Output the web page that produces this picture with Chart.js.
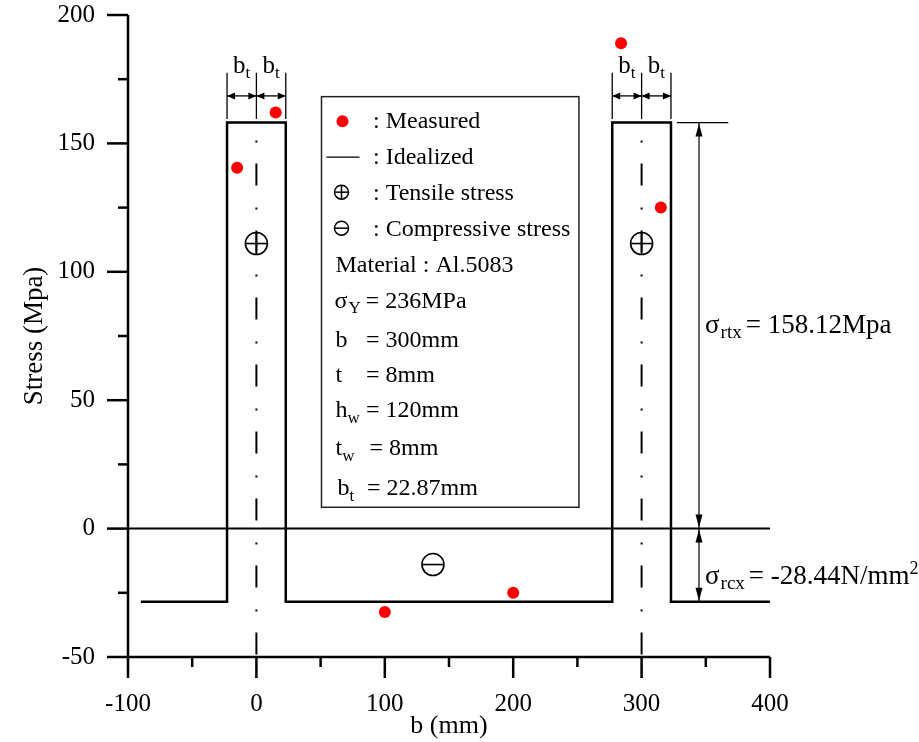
<!DOCTYPE html>
<html>
<head>
<meta charset="utf-8">
<script src="https://cdn.jsdelivr.net/npm/chart.js@4/dist/chart.umd.min.js"></script>
<style>
  html, body { margin: 0; padding: 0; background: #fff; }
  canvas { display: block; }
</style>
</head>
<body>
<canvas id="c" width="919" height="742"></canvas>
<script>
// ---------------- data ----------------
const xTicks = [-100, 0, 100, 200, 300, 400];
const yTicks = [-50, 0, 50, 100, 150, 200];
const xMinorTicks = [-50, 50, 150, 250, 350];
const yMinorTicks = [-25, 25, 75, 125, 175];

const idealX = [-90, -22.87, -22.87, 22.87, 22.87, 277.13, 277.13, 322.87, 322.87, 400];
const idealY = [-28.44, -28.44, 158.12, 158.12, -28.44, -28.44, 158.12, 158.12, -28.44, -28.44];

const measX = [-15, 15, 100, 200, 284, 315];
const measY = [140.5, 162, -32.5, -25, 189, 125];

const sigmaRtx = 158.12;
const sigmaRcx = -28.44;
const bt = 22.87;
const webCenters = [0, 300];

const SERIF = "'Liberation Serif', 'Times New Roman', serif";

function drawRich(ctx, x, y, parts) {
  let cx = x;
  for (const p of parts) {
    ctx.font = p.size + 'px ' + SERIF;
    ctx.fillText(p.t, cx, y + (p.dy || 0));
    cx += ctx.measureText(p.t).width + (p.gap || 0);
  }
  return cx;
}
function richWidth(ctx, parts) {
  let w = 0;
  for (const p of parts) { ctx.font = p.size + 'px ' + SERIF; w += ctx.measureText(p.t).width + (p.gap || 0); }
  return w;
}
function head(ctx, x, y, dx, dy, len, half) {
  ctx.beginPath();
  ctx.moveTo(x, y);
  ctx.lineTo(x - dx * len - dy * half, y - dy * len + dx * half);
  ctx.lineTo(x - dx * len + dy * half, y - dy * len - dx * half);
  ctx.closePath();
  ctx.fill();
}
function circSym(ctx, x, y, r, plus, lw) {
  ctx.lineWidth = lw;
  ctx.beginPath(); ctx.arc(x, y, r, 0, Math.PI * 2); ctx.stroke();
  ctx.beginPath(); ctx.moveTo(x - r, y); ctx.lineTo(x + r, y); ctx.stroke();
  if (plus) { ctx.beginPath(); ctx.moveTo(x, y - r); ctx.lineTo(x, y + r); ctx.stroke(); }
}

const annot = {
  id: 'annot',
  beforeDatasetsDraw(chart) {
    const ctx = chart.ctx, xs = chart.scales.x, ys = chart.scales.y;
    const px = v => xs.getPixelForValue(v), py = v => ys.getPixelForValue(v);
    ctx.save();
    ctx.strokeStyle = '#000';
    ctx.lineWidth = 2;
    ctx.beginPath(); ctx.moveTo(px(-100), py(0)); ctx.lineTo(px(400), py(0)); ctx.stroke();
    ctx.lineWidth = 2;
    ctx.setLineDash([2, 21, 22, 22]);
    ctx.lineDashOffset = 49;
    for (const c of webCenters) {
      ctx.beginPath(); ctx.moveTo(px(c), py(sigmaRtx)); ctx.lineTo(px(c), ys.bottom + 21); ctx.stroke();
    }
    ctx.setLineDash([]);
    ctx.restore();
  },
  afterDraw(chart) {
    const ctx = chart.ctx, xs = chart.scales.x, ys = chart.scales.y;
    const px = v => xs.getPixelForValue(v), py = v => ys.getPixelForValue(v);
    const L = xs.left, B = ys.bottom;
    ctx.save();
    ctx.strokeStyle = '#000'; ctx.fillStyle = '#000';
    // axes
    ctx.lineWidth = 2.5;
    ctx.beginPath(); ctx.moveTo(L, py(200)); ctx.lineTo(L, B); ctx.stroke();
    ctx.beginPath(); ctx.moveTo(L, B); ctx.lineTo(px(400), B); ctx.stroke();
    for (const v of yTicks) { ctx.beginPath(); ctx.moveTo(L - 21, py(v)); ctx.lineTo(L, py(v)); ctx.stroke(); }
    for (const v of yMinorTicks) { ctx.beginPath(); ctx.moveTo(L - 10, py(v)); ctx.lineTo(L, py(v)); ctx.stroke(); }
    for (const v of xTicks) { ctx.beginPath(); ctx.moveTo(px(v), B); ctx.lineTo(px(v), B + 21); ctx.stroke(); }
    for (const v of xMinorTicks) { ctx.beginPath(); ctx.moveTo(px(v), B); ctx.lineTo(px(v), B + 10); ctx.stroke(); }

    // b_t dimensions
    ctx.lineWidth = 1.3;
    ctx.textBaseline = 'alphabetic'; ctx.textAlign = 'left';
    for (const c of webCenters) {
      for (const e of [c - bt, c, c + bt]) {
        ctx.beginPath(); ctx.moveTo(px(e), py(177.5)); ctx.lineTo(px(e), py(159.5)); ctx.stroke();
      }
      const ay = py(168.5);
      for (const [a, b] of [[c - bt, c], [c, c + bt]]) {
        ctx.beginPath(); ctx.moveTo(px(a), ay); ctx.lineTo(px(b), ay); ctx.stroke();
        head(ctx, px(a), ay, -1, 0, 8, 3.5);
        head(ctx, px(b), ay, 1, 0, 8, 3.5);
        const parts = [{ t: 'b', size: 25 }, { t: 't', size: 17, dy: 5 }];
        const w = richWidth(ctx, parts);
        drawRich(ctx, (px(a) + px(b)) / 2 - w / 2, py(177.5), parts);
      }
    }

    // tensile / compressive symbols
    circSym(ctx, px(0), py(111), 11, true, 1.6);
    circSym(ctx, px(300), py(111), 11, true, 1.6);
    circSym(ctx, px(137.5), py(-14), 11, false, 1.6);

    // right-side dimension
    ctx.lineWidth = 1.2;
    ctx.beginPath(); ctx.moveTo(px(327.5), py(sigmaRtx)); ctx.lineTo(px(367.5), py(sigmaRtx)); ctx.stroke();
    const vx = px(344.7);
    ctx.beginPath(); ctx.moveTo(vx, py(sigmaRtx)); ctx.lineTo(vx, py(0)); ctx.stroke();
    head(ctx, vx, py(sigmaRtx) + 1, 0, -1, 13, 3.5);
    head(ctx, vx, py(0) - 1, 0, 1, 13, 3.5);
    ctx.beginPath(); ctx.moveTo(vx, py(0)); ctx.lineTo(vx, py(sigmaRcx)); ctx.stroke();
    head(ctx, vx, py(0) + 1, 0, -1, 13, 3.5);
    head(ctx, vx, py(sigmaRcx) - 1, 0, 1, 13, 3.5);

    drawRich(ctx, px(349.4), py(76), [
      { t: 'σ', size: 27, gap: 1 }, { t: 'rtx', size: 19, dy: 5, gap: 4 }, { t: '= 158.12Mpa', size: 27 }
    ]);
    drawRich(ctx, px(349.4), py(-21.7), [
      { t: 'σ', size: 27, gap: 1 }, { t: 'rcx', size: 19, dy: 5, gap: 4 }, { t: '= -28.44N/mm', size: 27 }, { t: '2', size: 18, dy: -10 }
    ]);

    // legend box
    const bx0 = px(50.7), bx1 = px(251.2), by0 = py(168.2), by1 = py(8.3);
    ctx.fillStyle = '#fff';
    ctx.fillRect(bx0, by0, bx1 - bx0, by1 - by0);
    ctx.fillStyle = '#000';
    ctx.strokeStyle = '#222';
    ctx.lineWidth = 1.5;
    ctx.strokeRect(bx0, by0, bx1 - bx0, by1 - by0);
    ctx.strokeStyle = '#000';
    const T = by0;
    const rowBase = [31.5, 67.5, 103.5, 139.5, 175, 211.5, 250, 285, 320, 358, 398];
    const tx = bx0 + 51.5;
    ctx.fillStyle = '#ff0000';
    ctx.beginPath(); ctx.arc(bx0 + 21, T + rowBase[0] - 7, 6, 0, Math.PI * 2); ctx.fill();
    ctx.fillStyle = '#000';
    drawRich(ctx, tx, T + rowBase[0], [{ t: ': Measured', size: 24 }]);
    ctx.lineWidth = 1.3;
    ctx.beginPath(); ctx.moveTo(bx0 + 5, T + rowBase[1] - 7); ctx.lineTo(bx0 + 38, T + rowBase[1] - 7); ctx.stroke();
    drawRich(ctx, tx, T + rowBase[1], [{ t: ': Idealized', size: 24 }]);
    circSym(ctx, bx0 + 20, T + rowBase[2] - 8, 7, true, 1.5);
    drawRich(ctx, tx, T + rowBase[2], [{ t: ': Tensile stress', size: 24 }]);
    circSym(ctx, bx0 + 20, T + rowBase[3] - 8, 7, false, 1.5);
    drawRich(ctx, tx, T + rowBase[3], [{ t: ': Compressive stress', size: 24 }]);
    drawRich(ctx, bx0 + 14, T + rowBase[4], [{ t: 'Material : Al.5083', size: 24 }]);
    drawRich(ctx, bx0 + 13, T + rowBase[5], [{ t: 'σ', size: 24, gap: 1 }, { t: 'Y', size: 17, dy: 5, gap: 5 }, { t: '= 236MPa', size: 24 }]);
    const eqRows = [
      { main: 'b', sub: '', val: '= 300mm', eq: 44.5 },
      { main: 't', sub: '', val: '= 8mm', eq: 44.5 },
      { main: 'h', sub: 'w', val: '= 120mm', eq: 44.5 },
      { main: 't', sub: 'w', val: '= 8mm', eq: 48 },
      { main: 'b', sub: 't', val: '= 22.87mm', eq: 45.5 }
    ];
    eqRows.forEach((r, i) => {
      const y = T + rowBase[6 + i];
      const mx = (r.main === 'b' && r.sub === 't') ? bx0 + 16 : bx0 + 14;
      const parts = [{ t: r.main, size: 24 }];
      if (r.sub) parts.push({ t: r.sub, size: 17, dy: 6 });
      drawRich(ctx, mx, y, parts);
      drawRich(ctx, bx0 + r.eq, y, [{ t: r.val, size: 24 }]);
    });
    ctx.restore();
  }
};

function noPad(s) { s.paddingTop = 0; s.paddingBottom = 0; s.paddingLeft = 0; s.paddingRight = 0; }

const chart = new Chart(document.getElementById('c').getContext('2d'), {
  type: 'scatter',
  data: {
    datasets: [
      {
        label: 'Idealized',
        data: idealX.map((x, i) => ({ x, y: idealY[i] })),
        showLine: true,
        borderColor: '#000',
        borderWidth: 2.5,
        pointRadius: 0,
        fill: false,
        tension: 0,
        order: 2
      },
      {
        label: 'Measured',
        data: measX.map((x, i) => ({ x, y: measY[i] })),
        showLine: false,
        pointRadius: 6,
        pointBackgroundColor: '#ff0000',
        pointBorderWidth: 0,
        borderColor: '#ff0000',
        order: 1
      }
    ]
  },
  options: {
    responsive: false,
    animation: false,
    events: [],
    layout: { padding: { top: 15, right: 149, left: 0, bottom: 0 } },
    plugins: { legend: { display: false }, tooltip: { enabled: false } },
    scales: {
      x: {
        type: 'linear', min: -100, max: 400,
        afterBuildTicks: s => { s.ticks = xTicks.map(v => ({ value: v })); },
        afterFit: s => { s.height = 85; noPad(s); },
        grid: { display: false, drawTicks: true, tickLength: 21 },
        border: { display: false },
        ticks: { padding: 11, color: '#000', font: { family: SERIF, size: 25 }, maxRotation: 0, autoSkip: false },
        title: { display: true, text: 'b (mm)', color: '#000', font: { family: SERIF, size: 26 }, padding: { top: 0, bottom: 0 } }
      },
      y: {
        type: 'linear', min: -50, max: 200,
        afterBuildTicks: s => { s.ticks = yTicks.map(v => ({ value: v })); },
        afterFit: s => { s.width = 128; noPad(s); },
        grid: { display: false, drawTicks: true, tickLength: 21 },
        border: { display: false },
        ticks: { padding: 12, color: '#000', font: { family: SERIF, size: 25 }, autoSkip: false },
        title: { display: true, text: 'Stress (Mpa)', color: '#000', font: { family: SERIF, size: 27 }, padding: { top: 19, bottom: 0 } }
      }
    }
  },
  plugins: [annot]
});
</script>
</body>
</html>
